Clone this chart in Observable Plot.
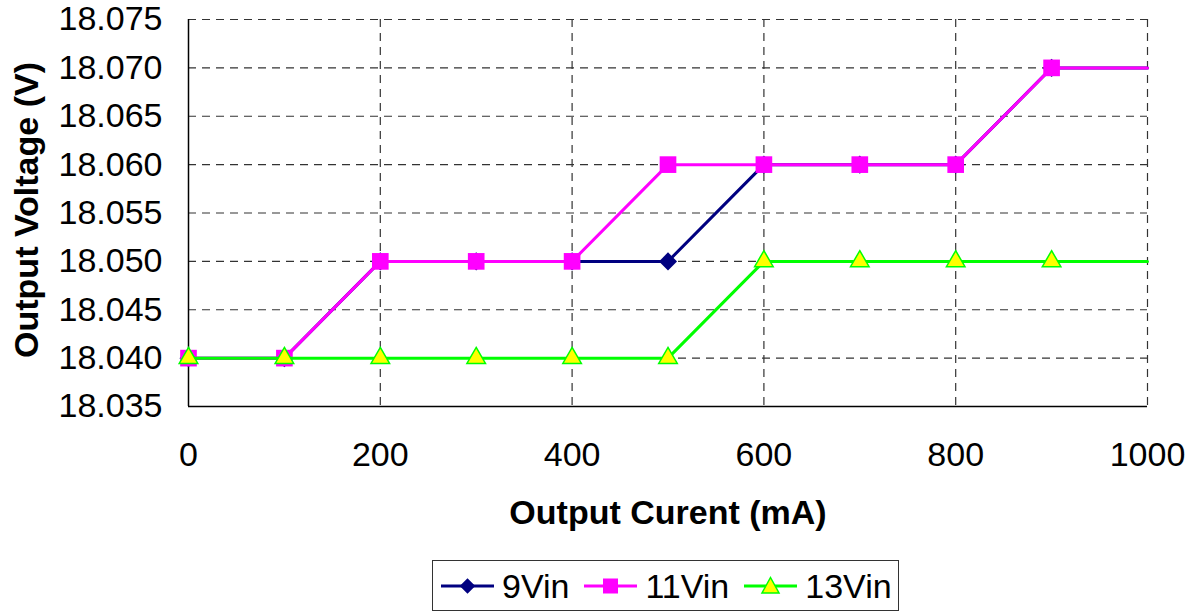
<!DOCTYPE html>
<html><head><meta charset="utf-8">
<script src="https://cdn.jsdelivr.net/npm/d3@7"></script>
<script src="https://cdn.jsdelivr.net/npm/@observablehq/plot@0.6"></script>
<style>
body{margin:0;background:#fff;font-family:"Liberation Sans",Arial,sans-serif;}
#wrap{position:relative;width:1193px;height:613px;overflow:hidden;}
#legend{position:absolute;left:432px;top:560px;width:467px;height:51px;border:1.5px solid #333;box-sizing:border-box;display:flex;align-items:center;padding-left:8px;}
.item{display:flex;align-items:center;margin-right:15px;}
.item svg{margin-right:8px;}
.item span{font-size:34px;color:#000;line-height:1;}
</style>
</head><body>
<div id="wrap"><div id="chart"></div><div id="legend"></div></div>
<script>
const currents = [0, 100, 200, 300, 400, 500, 600, 700, 800, 900, 1000];
const v9  = [18.040, 18.040, 18.050, 18.050, 18.050, 18.050, 18.060, 18.060, 18.060, 18.070, 18.070];
const v11 = [18.040, 18.040, 18.050, 18.050, 18.050, 18.060, 18.060, 18.060, 18.060, 18.070, 18.070];
const v13 = [18.040, 18.040, 18.040, 18.040, 18.040, 18.040, 18.050, 18.050, 18.050, 18.050, 18.050];
const seriesNames = ["9Vin", "11Vin", "13Vin"];
const yTicks = [18.035, 18.040, 18.045, 18.050, 18.055, 18.060, 18.065, 18.070, 18.075];
const xTicks = [0, 200, 400, 600, 800, 1000];
const markerLast = 900; // markers drawn up to 900 mA

const styles = {
  "9Vin":  {stroke: "#000080", fill: "#000080", symbol: "square", r: 7.2, rotate: 45, mstroke: "none"},
  "11Vin": {stroke: "#FF00FF", fill: "#FF00FF", symbol: "square", r: 9.4, rotate: 0, mstroke: "none"},
  "13Vin": {stroke: "#00FF00", fill: "#FFFF00", symbol: "triangle", r: 6.9, rotate: 0, mstroke: "#00FF00"}
};
const valuesBy = {"9Vin": v9, "11Vin": v11, "13Vin": v13};
const rows = seriesNames.map(s => currents.map((c, i) => ({series: s, x: c, y: valuesBy[s][i]})));

const marks = [
  Plot.gridX(xTicks.filter(d => d > 0), {stroke: "#333", strokeOpacity: 1, strokeWidth: 1.2, strokeDasharray: "8,6"}),
  Plot.gridY(yTicks.filter(d => d > 18.035), {stroke: "#333", strokeOpacity: 1, strokeWidth: 1.2, strokeDasharray: "8,6"}),
  Plot.ruleX([0], {stroke: "#000", strokeWidth: 1.5}),
  Plot.ruleY([18.035], {stroke: "#000", strokeWidth: 1.5}),
  Plot.axisX({ticks: xTicks, tickSize: 0, tickPadding: 35, fontSize: 34, tickFormat: d => String(d), label: null}),
  Plot.axisY({ticks: yTicks, tickSize: 0, tickPadding: 26, fontSize: 34, tickFormat: d3.format(".3f"), label: null}),
  Plot.text(["Output Curent (mA)"], {frameAnchor: "bottom", lineAnchor: "middle", dy: 107, fontSize: 34, fontWeight: "bold", fill: "#000"}),
  Plot.text(["Output Voltage (V)"], {frameAnchor: "left", textAnchor: "middle", lineAnchor: "middle", dx: -161, dy: -3, rotate: -90, fontSize: 34, fontWeight: "bold", fill: "#000"})
];
for (const s of seriesNames) {
  const st = styles[s];
  const data = rows[seriesNames.indexOf(s)];
  marks.push(Plot.line(data, {x: "x", y: "y", stroke: st.stroke, strokeWidth: 3}));
  marks.push(Plot.dot(data.filter(d => d.x <= markerLast), {x: "x", y: "y", symbol: st.symbol, r: st.r, rotate: st.rotate, fill: st.fill, stroke: st.mstroke, strokeWidth: 1.5}));
}

const chart = Plot.plot({
  width: 1193,
  height: 545,
  marginLeft: 188,
  marginRight: 46,
  marginTop: 19,
  marginBottom: 139,
  style: {fontFamily: "'Liberation Sans', Arial, sans-serif", color: "#000", background: "#fff", overflow: "visible"},
  x: {domain: [0, 1000]},
  y: {domain: [18.035, 18.075]},
  marks
});
document.getElementById("chart").appendChild(chart);

// legend
const legend = document.getElementById("legend");
for (const s of seriesNames) {
  const st = styles[s];
  const item = document.createElement("div");
  item.className = "item";
  let marker;
  if (s === "9Vin") marker = `<rect x="-5.5" y="-5.5" width="11" height="11" fill="${st.fill}" transform="translate(26.5,12) rotate(45)"/>`;
  else if (s === "11Vin") marker = `<rect x="19" y="4.5" width="15" height="15" fill="${st.fill}"/>`;
  else marker = `<polygon points="26.5,3.5 35,19 18,19" fill="${st.fill}" stroke="${st.mstroke}" stroke-width="1.5"/>`;
  item.innerHTML = `<svg width="53" height="24"><line x1="0" x2="53" y1="12" y2="12" stroke="${st.stroke}" stroke-width="3"/>${marker}</svg><span>${s}</span>`;
  legend.appendChild(item);
}
</script>
</body></html>
